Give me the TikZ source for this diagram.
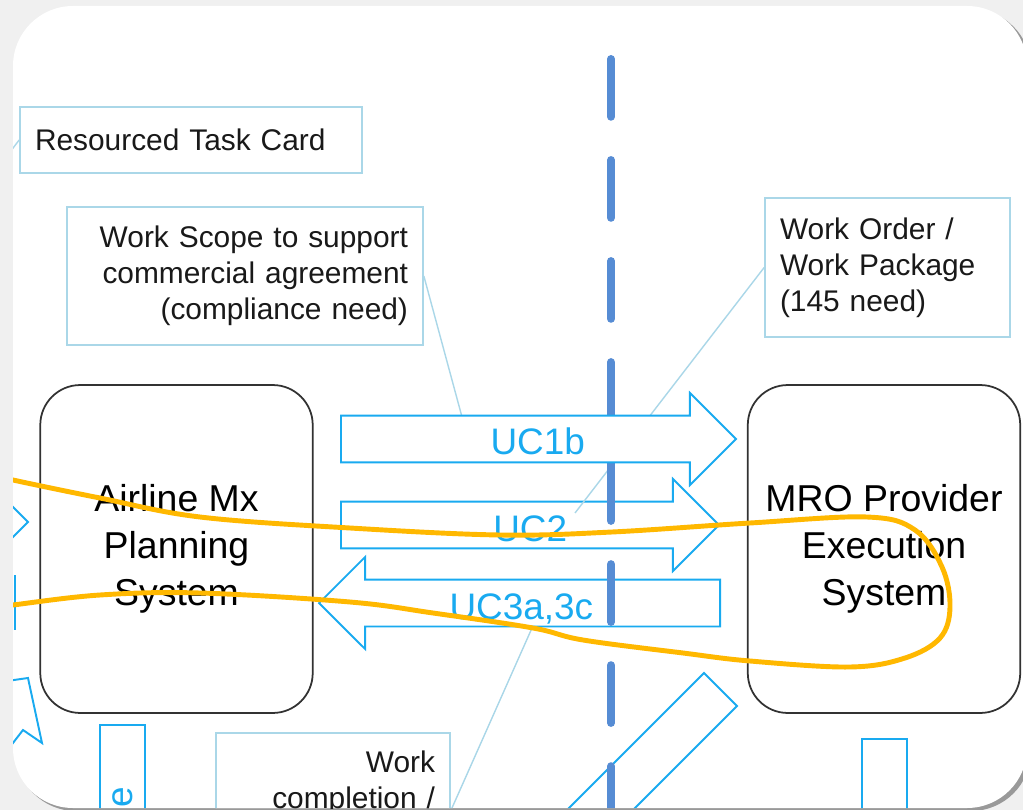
\documentclass[tikz,border=0pt]{standalone}
\usepackage{fontspec}
\setmainfont{Liberation Sans}
\usetikzlibrary{shapes.arrows,calc}
\definecolor{ucblue}{RGB}{25,170,240}
\definecolor{notebox}{RGB}{170,215,232}
\definecolor{divider}{RGB}{86,140,212}
\definecolor{flow}{RGB}{255,184,0}
\definecolor{sysline}{RGB}{50,50,50}
\begin{document}
\begin{tikzpicture}[x=0.02cm, y=-0.02cm,
  note/.style={draw=notebox, line width=1pt, fill=white, inner xsep=0.3cm, inner ysep=0pt, font=\fontsize{17}{20.4}\selectfont, text=black!90},
  system/.style={draw=sysline, line width=1pt, rounded corners=0.8cm, minimum width=5.45cm, minimum height=6.56cm, align=center, font=\fontsize{21.3}{26.6}\selectfont},
  uc/.style={single arrow, draw=ucblue, line width=1.1pt, fill=white, text=ucblue, inner xsep=0pt, inner ysep=0pt, single arrow head extend=0.45cm, text height=0.77cm, text depth=0.13cm, font=\fontsize{21}{25}\selectfont},
  lead/.style={draw=notebox, line width=0.8pt},
  edge/.style={draw=ucblue, line width=1.1pt}]
\useasboundingbox (0,0) rectangle (1023,810);
\fill[gray!12] (0,0) rectangle (1023,810);
\fill[black!40, rounded corners=1.2cm] (16,9) rectangle (1031,811);
\fill[white, rounded corners=1.2cm] (13,6) rectangle (1027,808);
\begin{scope}
  \clip[rounded corners=1.2cm] (13,6) rectangle (1027,808);
  \node[note, text width=6.24cm, minimum height=1.32cm, align=left] (taskcard) at (191,140) {Resourced Task Card};
  \node[note, text width=6.52cm, minimum height=2.76cm, align=right] (workscope) at (245,276) {Work Scope to support\\commercial agreement\\(compliance need)};
  \node[note, text width=4.3cm, minimum height=2.78cm, align=left] (workorder) at (887.5,267.5) {Work Order /\\Work Package\\(145 need)};
  \node[note, text width=4.08cm, minimum height=1.98cm, align=right] (completion) at (333,782.5) {Work\\completion /};

  \node[system] (airline) at (176.5,549) {Airline Mx\\Planning\\System};
  \node[system] (mro) at (884,549) {MRO Provider\\Execution\\System};

  \draw[edge] (4,498) -- (28,522) -- (4,546);
  \draw[edge] (15,575) -- (15,630);
  \draw[edge] (0,682) -- (28,678) -- (42,743) -- (23,730) -- (6,752);
  \node[edge, rotate=90, minimum width=2.88cm, minimum height=0.9cm, text=ucblue, font=\fontsize{21}{25}\selectfont] (leftbar) at (122.5,797) {e};
  \node[edge, minimum width=0.9cm, minimum height=2cm, anchor=north] (rightbar) at (884.5,738) {};
  \draw[edge] (704,673) -- (737,706) -- (537,906) -- (504,873) -- cycle;

  \node[uc, minimum height=7.56cm, anchor=tail] (uc2) at (340,525) {\hspace*{0.48cm}UC2};
  \node[uc, minimum height=8.02cm, anchor=tail, shape border rotate=180] (uc3) at (721,603) {UC3a,3c\hspace*{0.4cm}};

  \coordinate (taskoff) at (4,160);
  \coordinate (scopehit) at (462,417);
  \coordinate (orderhit) at (575,513);
  \coordinate (complhit) at (532,628);
  \draw[lead] (taskcard.west) -- (taskoff);
  \draw[lead] (workscope.east) -- (scopehit);
  \draw[lead] (workorder.west) -- (orderhit);
  \draw[lead] ($(completion.east)+(0,28)$) -- (complhit);

  \draw[divider, line width=4.5pt, line cap=round, dash pattern=on 32.9pt off 24.6pt] (611,59) -- (611,830);

  \node[uc, minimum height=7.9cm, anchor=tail] (uc1b) at (340,439) {\hspace*{0.44cm}UC1b};

  \draw[flow, line width=2.8pt] plot[smooth, tension=0.6] coordinates {(0,476) (13,480) (100,498) (200,517) (350,528) (500,535) (612,532) (750,523) (867,517) (915,530) (942,567) (950,607) (940,638) (905,658) (850,667) (750,661) (683,653) (583,640) (533,628) (433,613) (350,602) (200,593) (100,595) (13,605) (0,607)};
\end{scope}
\end{tikzpicture}
\end{document}
